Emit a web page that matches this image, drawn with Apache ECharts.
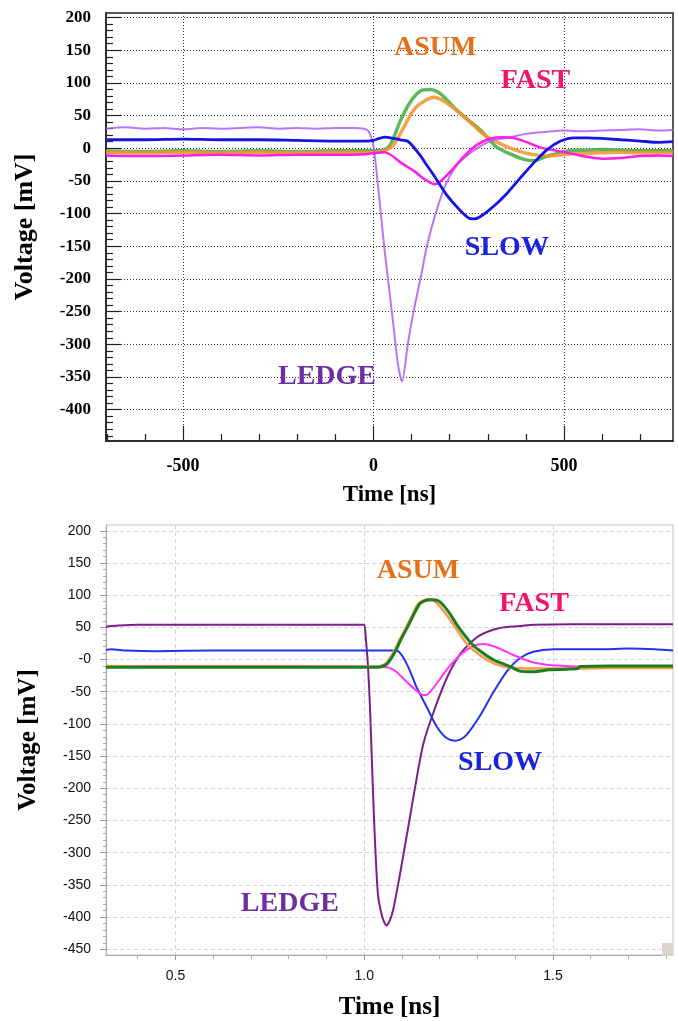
<!DOCTYPE html>
<html>
<head>
<meta charset="utf-8">
<script src="https://cdn.jsdelivr.net/npm/echarts@6/dist/echarts.min.js"></script>
<style>
html,body{margin:0;padding:0;background:#fff;}
#c{width:678px;height:1021px;}
</style>
</head>
<body>
<div id="c"></div>
<script>
// ---------- TOP PANEL (measured, Time in ns) ----------
var topLedgeT = [-702,-650,-600,-550,-500,-450,-400,-350,-300,-250,-200,-150,-100,-50,-25,-14,-5,2,15,28,40,52,64,75,90,105,125,140,163,190,220,255,280,300,330,360,400,450,500,550,600,650,700,750,786];
var topLedgeV = [30,32,30,31,29,31,30,31,32,30,31,30,31,31,30,27,15,-5,-75,-150,-210,-270,-330,-357,-300,-250,-195,-150,-100,-55,-25,-7,3,9,14,17,22,25,27,26,27,28,29,27,28];

var topSlowT = [-702,-600,-500,-400,-300,-200,-100,-20,0,15,30,45,70,89,105,124,140,159,194,229,251,265,282,317,352,386,421,456,491,526,560,600,650,700,750,786];
var topSlowV = [13,13,14,13,13,12,11,11,12,15,17,16,13,11,2,-12,-26,-42,-73,-96,-107,-108,-104,-88,-68,-45,-22,-2,11,16,16,15,13,11,9,10];

var topFastT = [-702,-600,-500,-400,-300,-200,-100,-20,10,28,45,72,107,133,160,177,203,238,273,308,340,365,395,439,483,526,560,600,650,700,750,786];
var topFastV = [-11,-12,-11,-10,-11,-10,-10,-9,-7,-6,-10,-22,-35,-47,-55,-50,-35,-12,6,15,17,16,11,1,-4,-9,-13,-16,-15,-12,-11,-12];

var topAsumT = [-702,-600,-500,-400,-300,-200,-100,0,28,54,81,107,133,159,185,220,255,290,325,369,413,456,509,596,650,700,786];
var topAsumV = [-6,-7,-6,-7,-6,-7,-6,-6,-4,6,34,60,72,78,72,57,39,21,9,-2,-9,-12,-9,-7,-6,-7,-6];

var topGreenT = [-702,-600,-500,-400,-300,-200,-100,0,30,45,72,98,124,150,177,212,247,282,299,325,360,395,421,456,509,560,596,650,700,786];
var topGreenV = [-4,-5,-4,-5,-4,-5,-4,-4,-2,6,44,72,88,90,83,62,44,27,16,1,-9,-17,-19,-12,-4,-3,-2,-3,-4,-4];

// ---------- BOTTOM PANEL (Time in ns) ----------
var botLedgeT = [0.316,0.33,0.35,0.4,0.6,0.8,0.99,1.0,1.004,1.01,1.0156,1.025,1.036,1.048,1.059,1.068,1.077,1.094,1.117,1.140,1.157,1.186,1.221,1.256,1.302,1.359,1.412,1.452,1.55,1.7,1.818];
var botLedgeV = [51,52,53,54,54,54,54,54,35,-10,-78,-233,-362,-400,-413,-405,-388,-336,-259,-181,-130,-78,-26,10,36,49,52,54,55,55,55];

var botSlowT = [0.316,0.33,0.37,0.45,0.6,0.8,1.0,1.06,1.085,1.098,1.112,1.125,1.138,1.165,1.192,1.218,1.240,1.255,1.271,1.306,1.341,1.377,1.412,1.448,1.501,1.625,1.7,1.77,1.818];
var botSlowV = [15,16,14,13,14,14,14,14,14,8,-6,-23,-42,-73,-104,-122,-126,-124,-117,-88,-52,-19,2,12,16,16,17,16,14];

var botFastT = [0.316,0.5,0.8,1.032,1.067,1.085,1.103,1.130,1.156,1.165,1.183,1.200,1.218,1.254,1.289,1.315,1.350,1.395,1.439,1.483,1.530,1.571];
var botFastV = [-10,-10,-10,-11,-13,-19,-29,-44,-55,-55,-44,-31,-16,7,21,24,19,7,-3,-8,-10,-11];

var botAsumT = [0.316,0.5,0.8,1.032,1.045,1.058,1.076,1.095,1.112,1.128,1.143,1.169,1.19,1.215,1.240,1.271,1.295,1.324,1.368,1.40,1.45,1.55,1.65,1.818];
var botAsumV = [-10,-11,-11,-11,-10,-6,10,32,51,70,87,94,89,72,51,25,12,0,-11,-13,-14,-14,-13,-13];

var botGreenT = [0.316,0.5,0.8,1.035,1.05,1.062,1.08,1.098,1.117,1.133,1.148,1.165,1.183,1.20,1.225,1.249,1.284,1.31,1.341,1.386,1.412,1.448,1.49,1.537,1.565,1.572,1.65,1.75,1.818];
var botGreenV = [-12,-12,-12,-12,-10,-6,10,32,53,72,87,92,93,90,73,51,25,12,0,-11,-18,-19,-16,-15,-14,-11,-10,-10,-10];

// ---------- ticks / labels ----------
var topXMajor = [-500, 0, 500];
var topXLabels = ['-500', '0', '500'];
var topXMinor = [-700,-600,-400,-300,-200,-100,100,200,300,400,600,700];
var topYMajor = [-400,-350,-300,-250,-200,-150,-100,-50,0,50,100,150,200];
var topYLabels = ['-400','-350','-300','-250','-200','-150','-100','-50','0','50','100','150','200'];

var botXMajor = [0.5, 1.0, 1.5];
var botXLabels = ['0.5', '1.0', '1.5'];
var botXMinor = [0.4,0.6,0.7,0.8,0.9,1.1,1.2,1.3,1.4,1.6,1.7,1.8];
var botYMajor = [-450,-400,-350,-300,-250,-200,-150,-100,-50,0,50,100,150,200];
var botYLabels = ['-450','-400','-350','-300','-250','-200','-150','-100','-50','-0','50','100','150','200'];

// annotation labels (data coordinates)
var topNotes = [['ASUM',162,154],['FAST',425,104],['SLOW',350,-152],['LEDGE',-122,-350]];
var botNotes = [['ASUM',1.1425,138],['FAST',1.450,87],['SLOW',1.360,-160],['LEDGE',0.803,-380]];
var noteColors = {ASUM:'#E5701A', FAST:'#F0146A', SLOW:'#1C22D8', LEDGE:'#6E2EA3'};

function minorList(lo, hi, step, skip) {
  var out = [];
  for (var v = lo; v <= hi + 1e-9; v += step) {
    var r = Math.round(v * 1000) / 1000;
    if (skip && Math.abs(r % skip) < 1e-9) continue;
    out.push(r);
  }
  return out;
}
var topYMinor = minorList(-440, 200, 10, 50);
var botYMinor = minorList(-450, 200, 10, 50);

function zip(t, v) { return t.map(function (x, i) { return [x, v[i]]; }); }
function lookup(vals, labels) {
  return function (v) {
    for (var i = 0; i < vals.length; i++) if (Math.abs(vals[i] - v) < 1e-6) return labels[i];
    return '';
  };
}

var serifB = 'Liberation Serif';
var TOP = {min: -702, max: 786}, TOPY = {min: -448, max: 207};
var BOT = {min: 0.316, max: 1.818}, BOTY = {min: -459, max: 209};

function notesSeries(notes, xi, yi) {
  return {
    type: 'scatter', xAxisIndex: xi, yAxisIndex: yi, symbolSize: 0, silent: true, z: 20,
    itemStyle: {opacity: 0},
    data: notes.map(function (n) {
      return {value: [n[1], n[2]], name: n[0],
        label: {show: true, position: 'inside', formatter: n[0], color: noteColors[n[0]],
          textBorderWidth: 0, textBorderColor: 'transparent', opacity: 1,
          fontFamily: serifB, fontWeight: 'bold', fontSize: 28}};
    })
  };
}

function line(t, v, color, width, xi, yi, z, opacity) {
  return {type: 'line', xAxisIndex: xi, yAxisIndex: yi, data: zip(t, v), showSymbol: false,
    smooth: 0.25, silent: true, z: z,
    lineStyle: {color: color, width: width, opacity: opacity == null ? 1 : opacity}};
}

var chart = echarts.init(document.getElementById('c'), null, {renderer: 'canvas'});
chart.setOption({
  animation: false,
  backgroundColor: '#ffffff',
  grid: [
    {left: 106, top: 13, width: 567, height: 428, show: true, borderColor: '#222', borderWidth: 1.5, backgroundColor: 'transparent', containLabel: false},
    {left: 106, top: 525, width: 567, height: 431, show: true, borderColor: '#c4c4c4', borderWidth: 1, backgroundColor: 'transparent', containLabel: false}
  ],
  xAxis: [
    {type: 'value', gridIndex: 0, min: TOP.min, max: TOP.max, position: 'bottom',
      name: 'Time [ns]', nameLocation: 'middle', nameGap: 43,
      nameTextStyle: {fontFamily: serifB, fontWeight: 'bold', fontSize: 23, color: '#000'},
      axisLine: {show: true, onZero: false, lineStyle: {color: '#222', width: 1.5}},
      axisTick: {show: true, inside: true, length: 15, customValues: topXMajor, lineStyle: {color: '#222', width: 1.2}},
      axisLabel: {show: true, customValues: topXMajor, formatter: lookup(topXMajor, topXLabels), margin: 16,
        fontFamily: serifB, fontWeight: 'bold', fontSize: 18, color: '#000'},
      splitLine: {show: true, lineStyle: {color: '#333', width: 1, type: [1, 2]}}},
    {type: 'value', gridIndex: 0, min: TOP.min, max: TOP.max, position: 'bottom',
      axisLine: {show: false, onZero: false},
      axisTick: {show: true, inside: true, length: 7, customValues: topXMinor, lineStyle: {color: '#222', width: 1.2}},
      axisLabel: {show: false}, splitLine: {show: false}},
    {type: 'value', gridIndex: 1, min: BOT.min, max: BOT.max, position: 'bottom',
      name: 'Time [ns]', nameLocation: 'middle', nameGap: 40,
      nameTextStyle: {fontFamily: serifB, fontWeight: 'bold', fontSize: 25, color: '#000'},
      axisLine: {show: true, onZero: false, lineStyle: {color: '#aaa', width: 1}},
      axisTick: {show: true, inside: false, length: 5, customValues: botXMajor, lineStyle: {color: '#999'}},
      axisLabel: {show: true, customValues: botXMajor, formatter: lookup(botXMajor, botXLabels), margin: 14,
        fontFamily: 'Liberation Sans', fontSize: 14, color: '#111'},
      splitLine: {show: true, lineStyle: {color: '#d2d2d2', width: 1, type: [4, 3]}}},
    {type: 'value', gridIndex: 1, min: BOT.min, max: BOT.max, position: 'bottom',
      axisLine: {show: false, onZero: false},
      axisTick: {show: true, inside: false, length: 4, customValues: botXMinor, lineStyle: {color: '#aaa'}},
      axisLabel: {show: false}, splitLine: {show: false}}
  ],
  yAxis: [
    {type: 'value', gridIndex: 0, min: TOPY.min, max: TOPY.max, position: 'left',
      name: 'Voltage [mV]', nameLocation: 'middle', nameGap: 68, nameRotate: 90,
      nameTextStyle: {fontFamily: serifB, fontWeight: 'bold', fontSize: 26, color: '#000'},
      axisLine: {show: true, onZero: false, lineStyle: {color: '#222', width: 1.5}},
      axisTick: {show: true, inside: true, length: 15, customValues: topYMajor, lineStyle: {color: '#222', width: 1.2}},
      axisLabel: {show: true, customValues: topYMajor, formatter: lookup(topYMajor, topYLabels), margin: 15,
        fontFamily: serifB, fontWeight: 'bold', fontSize: 17, color: '#000'},
      splitLine: {show: true, lineStyle: {color: '#333', width: 1, type: [1, 2]}}},
    {type: 'value', gridIndex: 0, min: TOPY.min, max: TOPY.max, position: 'left',
      axisLine: {show: false, onZero: false},
      axisTick: {show: true, inside: true, length: 7, customValues: topYMinor, lineStyle: {color: '#222', width: 1.2}},
      axisLabel: {show: false}, splitLine: {show: false}},
    {type: 'value', gridIndex: 1, min: BOTY.min, max: BOTY.max, position: 'left',
      name: 'Voltage [mV]', nameLocation: 'middle', nameGap: 65, nameRotate: 90,
      nameTextStyle: {fontFamily: serifB, fontWeight: 'bold', fontSize: 25, color: '#000'},
      axisLine: {show: true, onZero: false, lineStyle: {color: '#aaa', width: 1}},
      axisTick: {show: true, inside: false, length: 6, customValues: botYMajor, lineStyle: {color: '#999'}},
      axisLabel: {show: true, customValues: botYMajor, formatter: lookup(botYMajor, botYLabels), margin: 15,
        fontFamily: 'Liberation Sans', fontSize: 14, color: '#111'},
      splitLine: {show: true, lineStyle: {color: '#d2d2d2', width: 1, type: [4, 3]}}},
    {type: 'value', gridIndex: 1, min: BOTY.min, max: BOTY.max, position: 'left',
      axisLine: {show: false, onZero: false},
      axisTick: {show: true, inside: false, length: 3, customValues: botYMinor, lineStyle: {color: '#aaa'}},
      axisLabel: {show: false}, splitLine: {show: false}}
  ],
  graphic: [
    {type: 'rect', shape: {x: 662, y: 943, width: 11, height: 13}, style: {fill: '#d9d5cc'}, z: 30}
  ],
  series: [
    line(topGreenT, topGreenV, '#3DAE3D', 3.5, 0, 0, 3, 0.85),
    line(topAsumT, topAsumV, '#F5902E', 3.5, 0, 0, 4, 0.85),
    line(topLedgeT, topLedgeV, '#B25CF2', 2, 0, 0, 5, 0.85),
    line(topFastT, topFastV, '#FF1EE6', 2.5, 0, 0, 6),
    line(topSlowT, topSlowV, '#1414E6', 2.8, 0, 0, 7),
    notesSeries(topNotes, 0, 0),

    line(botLedgeT, botLedgeV, '#7D1E8C', 2, 2, 2, 3),
    line(botSlowT, botSlowV, '#2233EE', 2, 2, 2, 4),
    line(botFastT, botFastV, '#FF33FF', 2, 2, 2, 5),
    line(botAsumT, botAsumV, '#F39A4B', 2.5, 2, 2, 6),
    line(botGreenT, botGreenV, '#1E7D1E', 3, 2, 2, 7),
    notesSeries(botNotes, 2, 2)
  ]
});
</script>
</body>
</html>
